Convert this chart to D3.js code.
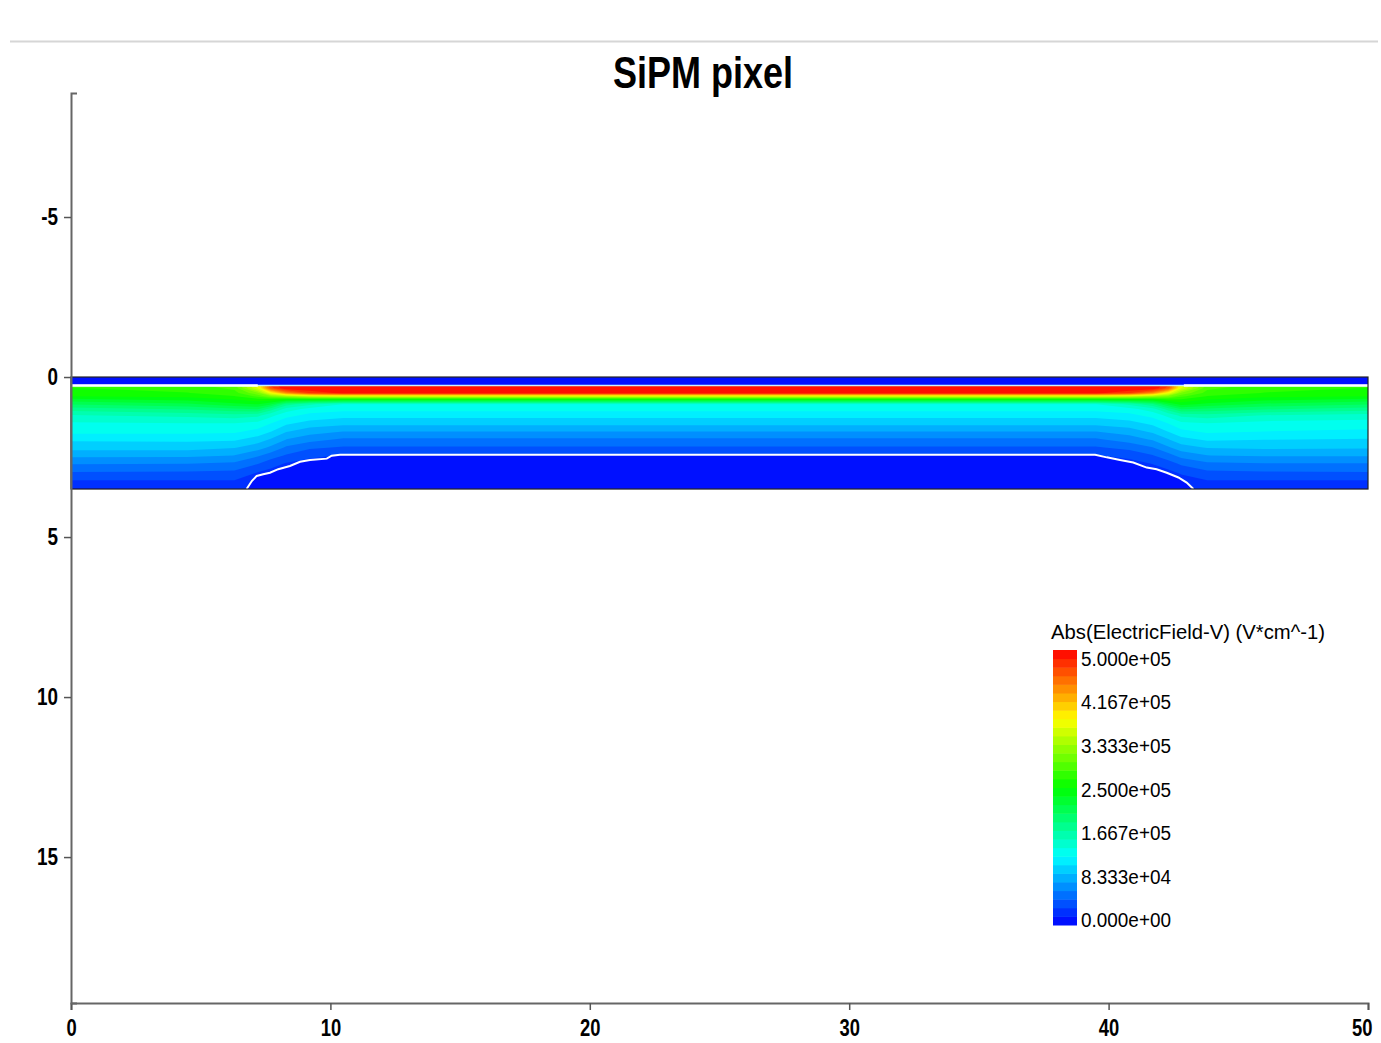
<!DOCTYPE html>
<html>
<head>
<meta charset="utf-8">
<script src="https://cdn.jsdelivr.net/npm/d3@7"></script>
<style>
  body { margin: 0; background: #fff; }
  svg { display: block; }
</style>
</head>
<body>
<script>
// axis ticks (x along the pixel, y = depth, both in um; depth grows downwards)
var xTicks = [0, 10, 20, 30, 40, 50];
var yTicks = [-5, 0, 5, 10, 15];
var legendTicks = [0, 83333, 166667, 250000, 333333, 416667, 500000];
var legendLabels = ['0.000e+00', '8.333e+04', '1.667e+05', '2.500e+05', '3.333e+05', '4.167e+05', '5.000e+05'];
var colorStops = ['#0000ff', '#00ffff', '#00ff00', '#ffff00', '#ff0000'];
var nBands = 32;
var fieldMax = 5; // 1e5 V/cm

var gridX = [0, 4.5, 6.3, 7.2, 7.7, 8.3, 9.2, 10.5, 25, 39.5, 40.8, 41.7, 42.3, 42.8, 43.8, 46, 50];
var gridDepth = [0.27, 0.35, 0.5, 0.6, 0.7, 0.85, 1.0, 1.2, 1.45, 1.7, 1.95, 2.2, 2.45, 2.7, 3.0, 3.25, 3.5];
var fieldRows = [
  [2.7, 2.75, 2.9, 3.7, 4.7, 5.0, 5.0, 5.0, 5.0, 5.0, 5.0, 5.0, 4.7, 3.7, 2.9, 2.75, 2.7],
  [2.65, 2.7, 2.85, 3.6, 4.6, 5.0, 5.0, 5.0, 5.0, 5.0, 5.0, 5.0, 4.6, 3.6, 2.85, 2.7, 2.65],
  [2.6, 2.65, 2.75, 3.1, 3.7, 4.3, 4.7, 4.9, 4.9, 4.9, 4.7, 4.3, 3.7, 3.1, 2.75, 2.65, 2.6],
  [2.5, 2.55, 2.65, 2.85, 3.1, 3.3, 3.5, 3.6, 3.6, 3.6, 3.5, 3.3, 3.1, 2.85, 2.65, 2.55, 2.5],
  [2.3, 2.4, 2.5, 2.6, 2.6, 2.5, 2.5, 2.5, 2.5, 2.5, 2.5, 2.5, 2.65, 2.65, 2.5, 2.4, 2.3],
  [2.05, 2.15, 2.3, 2.35, 2.2, 1.8, 1.6, 1.4, 1.4, 1.4, 1.6, 1.85, 2.2, 2.4, 2.3, 2.15, 2.05],
  [1.8, 1.9, 2.0, 2.05, 1.8, 1.5, 1.35, 1.3, 1.3, 1.3, 1.35, 1.5, 1.8, 2.05, 2.0, 1.9, 1.8],
  [1.55, 1.6, 1.65, 1.6, 1.45, 1.3, 1.2, 1.15, 1.15, 1.15, 1.2, 1.3, 1.45, 1.6, 1.65, 1.55, 1.5],
  [1.38, 1.4, 1.4, 1.35, 1.25, 1.12, 1.03, 0.98, 0.98, 0.98, 1.03, 1.13, 1.25, 1.36, 1.4, 1.35, 1.33],
  [1.3, 1.3, 1.28, 1.2, 1.1, 0.95, 0.85, 0.78, 0.78, 0.78, 0.86, 0.97, 1.1, 1.21, 1.28, 1.25, 1.22],
  [1.12, 1.13, 1.12, 1.02, 0.92, 0.78, 0.68, 0.6, 0.6, 0.6, 0.7, 0.8, 0.93, 1.04, 1.12, 1.1, 1.08],
  [1.0, 1.0, 0.95, 0.85, 0.75, 0.6, 0.5, 0.45, 0.45, 0.45, 0.52, 0.62, 0.76, 0.87, 0.95, 0.97, 0.96],
  [0.82, 0.82, 0.78, 0.65, 0.55, 0.45, 0.35, 0.3, 0.3, 0.3, 0.36, 0.46, 0.57, 0.68, 0.78, 0.8, 0.8],
  [0.64, 0.63, 0.6, 0.48, 0.38, 0.3, 0.25, 0.25, 0.25, 0.25, 0.25, 0.32, 0.4, 0.5, 0.6, 0.62, 0.62],
  [0.45, 0.44, 0.42, 0.3, 0.25, 0.2, 0.2, 0.2, 0.2, 0.2, 0.2, 0.22, 0.26, 0.33, 0.42, 0.44, 0.45],
  [0.3, 0.3, 0.3, 0.22, 0.2, 0.2, 0.2, 0.2, 0.2, 0.2, 0.2, 0.2, 0.2, 0.24, 0.3, 0.3, 0.3],
  [0.14, 0.15, 0.2, 0.2, 0.2, 0.2, 0.2, 0.2, 0.2, 0.2, 0.2, 0.2, 0.2, 0.2, 0.2, 0.15, 0.14]
];

// layers and boundaries (x, depth)
var topLayer = [0, 50, 0, 0.27];           // x0, x1, depth0, depth1 (zero-field layer)
var junctionDepth = 0.265;
var junctionWhite = [[0, 7.2], [42.9, 50]]; // x ranges where the line is drawn white
var depletionLeft = [[6.77, 3.5], [6.97, 3.25], [7.16, 3.09], [7.41, 3.04], [7.67, 2.99], [7.99, 2.88],
  [8.44, 2.78], [8.83, 2.65], [9.21, 2.59], [9.86, 2.55], [10.05, 2.46], [10.37, 2.43]];
var depletionRight = [[39.48, 2.43], [39.93, 2.51], [40.44, 2.59], [40.95, 2.67], [41.47, 2.83],
  [41.85, 2.88], [42.24, 2.99], [42.69, 3.14], [43.01, 3.3], [43.27, 3.5]];

var W = 1381, H = 1043;
var svg = d3.select('body').append('svg').attr('width', W).attr('height', H);

var x = d3.scaleLinear().domain([0, 50]).range([71, 1368]);
var y = d3.scaleLinear().domain([-8.875, 19.56]).range([93, 1003]);

var cmap = d3.scaleLinear().domain([0, 0.25, 0.5, 0.75, 1]).range(colorStops);
function bandColor(k) { return cmap((k + 0.5) / nBands); }
var zeroColor = bandColor(0);

// squeeze text horizontally (no narrow font installed)
function condense(sel, f, fixed) {
  sel.each(function () {
    var w = fixed || this.getComputedTextLength() * f;
    d3.select(this).attr('textLength', w).attr('lengthAdjust', 'spacingAndGlyphs');
  });
}

// thin gray rule at the top of the page
svg.append('line').attr('x1', 10).attr('x2', 1378).attr('y1', 41.5).attr('y2', 41.5)
  .attr('stroke', '#d6d6d6').attr('stroke-width', 2);

// title
svg.append('text').attr('x', 703).attr('y', 88).attr('text-anchor', 'middle')
  .attr('font-family', '"Liberation Sans", sans-serif')
  .attr('font-weight', 'bold').attr('font-size', 44).text('SiPM pixel')
  .call(condense, 0, 180);

// field: banded contours of the sample grid
var n = gridX.length, m = gridDepth.length;
var values = [].concat.apply([], fieldRows);
var gx = d3.scaleLinear().domain([0].concat(d3.range(n).map(function (i) { return i + 0.5; }), [n]))
  .range([gridX[0]].concat(gridX, [gridX[n - 1]]));
var gy = d3.scaleLinear().domain([0].concat(d3.range(m).map(function (i) { return i + 0.5; }), [m]))
  .range([gridDepth[0]].concat(gridDepth, [gridDepth[m - 1]]));
var proj = d3.geoTransform({
  point: function (px, py) { this.stream.point(x(gx(px)), y(gy(py))); }
});
var path = d3.geoPath(proj);
var thresholds = d3.range(nBands).map(function (k) { return k * fieldMax / nBands; });
var contours = d3.contours().size([n, m]).thresholds(thresholds)(values);

var field = svg.append('g');
field.selectAll('path').data(contours).enter().append('path')
  .attr('d', path)
  .attr('fill', function (d, i) { return bandColor(i); });

// zero-field top layer
field.append('rect')
  .attr('x', x(topLayer[0])).attr('width', x(topLayer[1]) - x(topLayer[0]))
  .attr('y', y(topLayer[2])).attr('height', y(topLayer[3]) - y(topLayer[2]))
  .attr('fill', zeroColor);

// undepleted region below the boundary
var boundary = depletionLeft.concat(depletionRight);
var line = d3.line().x(function (d) { return x(d[0]); }).y(function (d) { return y(d[1]); });
field.append('path').attr('d', line(boundary) + 'Z').attr('fill', zeroColor);
field.append('path').attr('d', line(boundary)).attr('fill', 'none')
  .attr('stroke', '#fff').attr('stroke-width', 2);

// junction line
field.append('line').attr('x1', x(0)).attr('x2', x(50))
  .attr('y1', y(junctionDepth)).attr('y2', y(junctionDepth))
  .attr('stroke', '#c8f2ff').attr('stroke-width', 1.5);
field.selectAll('line.jw').data(junctionWhite).enter().append('line').attr('class', 'jw')
  .attr('x1', function (d) { return x(d[0]); }).attr('x2', function (d) { return x(d[1]); })
  .attr('y1', y(junctionDepth)).attr('y2', y(junctionDepth))
  .attr('stroke', '#fff').attr('stroke-width', 2.5);

// outline of the simulated domain
field.append('rect').attr('x', x(0)).attr('y', y(0))
  .attr('width', x(50) - x(0)).attr('height', y(3.5) - y(0))
  .attr('fill', 'none').attr('stroke', '#222').attr('stroke-width', 1.2);

// axes
var tickFont = '"Liberation Sans", sans-serif';
var xAxis = svg.append('g').attr('transform', 'translate(0,' + y.range()[1] + ')')
  .call(d3.axisBottom(x).tickValues(xTicks).tickSize(7).tickSizeOuter(7).tickPadding(10)
    .tickFormat(d3.format('d')));
var yAxis = svg.append('g').attr('transform', 'translate(' + x(0) + ',0)')
  .call(d3.axisLeft(y).tickValues(yTicks).tickSize(7).tickSizeOuter(-6).tickPadding(6)
    .tickFormat(d3.format('d')));
[xAxis, yAxis].forEach(function (a) {
  a.select('.domain').attr('stroke', '#666').attr('stroke-width', 2);
  a.selectAll('.tick line').attr('stroke', '#555').attr('stroke-width', 1.5);
  a.selectAll('.tick text').attr('fill', '#000').attr('font-family', tickFont)
    .attr('font-weight', 'bold').attr('font-size', 23);
});
yAxis.selectAll('.tick text').text(function (d) { return d < 0 ? '-' + Math.abs(d) : d; });
xAxis.selectAll('.tick text').call(condense, 0.8);
yAxis.selectAll('.tick text').call(condense, 0.82);
// last x label sits against the page edge: right-align it there
xAxis.selectAll('.tick text').filter(function (d) { return d === xTicks[xTicks.length - 1]; })
  .attr('text-anchor', 'end').attr('x', 4);

// colour legend
var lx = 1053, lw = 24;
var barY = d3.scaleLinear().domain([0, nBands]).range([925, 650]);
var labelY = d3.scaleLinear().domain([0, 500000]).range([920, 659]);
var legend = svg.append('g');
legend.append('text').attr('x', 1051).attr('y', 639)
  .attr('font-family', '"Liberation Sans", sans-serif').attr('font-size', 20)
  .text('Abs(ElectricField-V) (V*cm^-1)')
  .call(condense, 0, 274);
legend.selectAll('rect').data(d3.range(nBands)).enter().append('rect')
  .attr('x', lx).attr('width', lw)
  .attr('y', function (k) { return barY(k + 1); })
  .attr('height', function (k) { return barY(k) - barY(k + 1) + 0.5; })
  .attr('fill', function (k) { return bandColor(k); });
legend.selectAll('text.lab').data(legendTicks).enter().append('text').attr('class', 'lab')
  .attr('x', 1081).attr('y', function (d) { return labelY(d); }).attr('dy', '0.35em')
  .attr('font-family', tickFont).attr('font-size', 20)
  .text(function (d, i) { return legendLabels[i]; })
  .call(condense, 0, 90);
</script>
</body>
</html>
